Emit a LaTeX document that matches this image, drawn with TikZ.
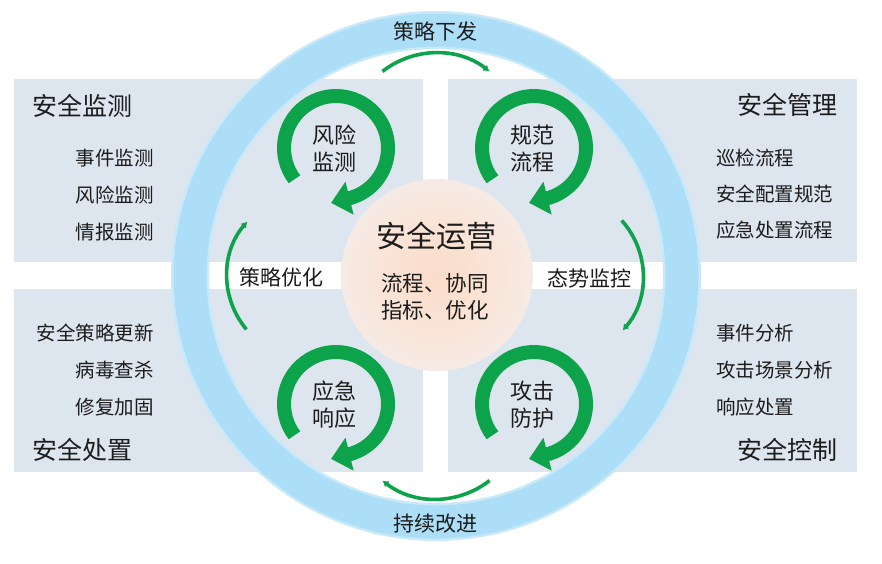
\documentclass[tikz,border=0pt]{standalone}
\usepackage{fontspec}
\setmainfont{Noto Sans CJK SC}
\usetikzlibrary{arrows.meta}
\definecolor{panel}{RGB}{221,229,239}
\definecolor{ringblue}{RGB}{172,222,247}
\definecolor{ringsoft}{RGB}{200,233,249}
\definecolor{loopgreen}{RGB}{13,163,74}
\definecolor{txt}{RGB}{28,28,28}
\definecolor{peachA}{RGB}{250,220,202}
\definecolor{peachM}{RGB}{250,228,214}
\definecolor{peachB}{RGB}{246,234,228}
\pgfdeclareradialshading{peachglow}{\pgfpoint{0bp}{0bp}}{color(0bp)=(peachA); color(14bp)=(peachM); color(24bp)=(peachB); color(50bp)=(peachB)}
\tikzset{
  paneltitle/.style={inner sep=0pt, text=txt, font=\fontsize{25}{28}\selectfont},
  paneltext/.style={inner sep=0pt, text=txt, font=\fontsize{19.5}{22}\selectfont},
  looptext/.style={inner sep=0pt, text=txt, font=\fontsize{22}{24}\selectfont},
  ringtext/.style={inner sep=0pt, text=txt, font=\fontsize{21}{24}\selectfont},
  thinarc/.style={draw=loopgreen, line width=3.6pt, -{Latex[length=6pt,width=7.5pt]}},
}
\newcommand{\greenloop}[5]{%
  \begin{scope}[shift={(#2,-#3)}]
    \draw[loopgreen, line width=14pt] (217:52) arc[start angle=217, end angle=-76, radius=52];
    \fill[loopgreen, rotate=-76] (35,1) -- (69,1) -- (52,-18) -- cycle;
    \node[looptext] (#1a) at (-2,13) {#4};
    \node[looptext] (#1b) at (-2,-14) {#5};
  \end{scope}}
\begin{document}
\begin{tikzpicture}[x=1pt,y=1pt]
\useasboundingbox (0,0) rectangle (882,-563);
\fill[white] (0,0) rectangle (882,-563);
% panels
\fill[panel] (14,-79) rectangle (423,-262);
\fill[panel] (448,-79) rectangle (857,-262);
\fill[panel] (14,-289) rectangle (423,-472);
\fill[panel] (448,-289) rectangle (857,-472);
% ring
\draw[ringsoft, line width=38pt] (436,-276) circle[radius=246];
\draw[ringblue, line width=33pt] (436,-276) circle[radius=246];
% central circle
\shade[shading=peachglow] (437,-275) circle[radius=96];
% loops
\greenloop{tl}{336}{148}{风险}{监测}
\greenloop{tr}{534}{148}{规范}{流程}
\greenloop{bl}{336}{404}{应急}{响应}
\greenloop{br}{534}{404}{攻击}{防护}
% thin arcs
\draw[thinarc] ([shift={(128:87)}]436,-140) arc[start angle=128, end angle=52, radius=87];
\draw[thinarc] ([shift={(-52:87)}]436,-412) arc[start angle=-52, end angle=-128, radius=87];
\draw[thinarc] ([shift={(220:83)}]310,-276) arc[start angle=220, end angle=139, radius=83];
\draw[thinarc] ([shift={(42:83)}]560,-276) arc[start angle=42, end angle=-41, radius=83];
% ring labels
\node[ringtext] (top) at (435,-32) {策略下发};
\node[ringtext] (bottom) at (435,-524) {持续改进};
\node[ringtext] (left) at (281,-277) {策略优化};
\node[ringtext] (right) at (589,-278) {态势监控};
% center
\node[inner sep=0pt, text=txt, font=\fontsize{30}{34}\selectfont] (core) at (436,-236) {安全运营};
\node[inner sep=0pt, text=txt, font=\fontsize{21.5}{24}\selectfont] (core1) at (435,-283) {流程、协同};
\node[inner sep=0pt, text=txt, font=\fontsize{21.5}{24}\selectfont] (core2) at (435,-310) {指标、优化};
% top-left panel
\node[paneltitle, anchor=west] (jc) at (32,-106) {安全监测};
\node[paneltext, anchor=east] (jc1) at (154,-158) {事件监测};
\node[paneltext, anchor=east] (jc2) at (154,-195) {风险监测};
\node[paneltext, anchor=east] (jc3) at (154,-232) {情报监测};
% top-right panel
\node[paneltitle, anchor=east] (gl) at (838,-105) {安全管理};
\node[paneltext, anchor=west] (gl1) at (716,-158) {巡检流程};
\node[paneltext, anchor=west] (gl2) at (716,-194) {安全配置规范};
\node[paneltext, anchor=west] (gl3) at (716,-230) {应急处置流程};
% bottom-left panel
\node[paneltext, anchor=east] (cz1) at (154,-333) {安全策略更新};
\node[paneltext, anchor=east] (cz2) at (154,-370) {病毒查杀};
\node[paneltext, anchor=east] (cz3) at (154,-407) {修复加固};
\node[paneltitle, anchor=west] (cz) at (32,-450) {安全处置};
% bottom-right panel
\node[paneltext, anchor=west] (kz1) at (716,-333) {事件分析};
\node[paneltext, anchor=west] (kz2) at (716,-370) {攻击场景分析};
\node[paneltext, anchor=west] (kz3) at (716,-407) {响应处置};
\node[paneltitle, anchor=east] (kz) at (838,-450) {安全控制};
\end{tikzpicture}
\end{document}
